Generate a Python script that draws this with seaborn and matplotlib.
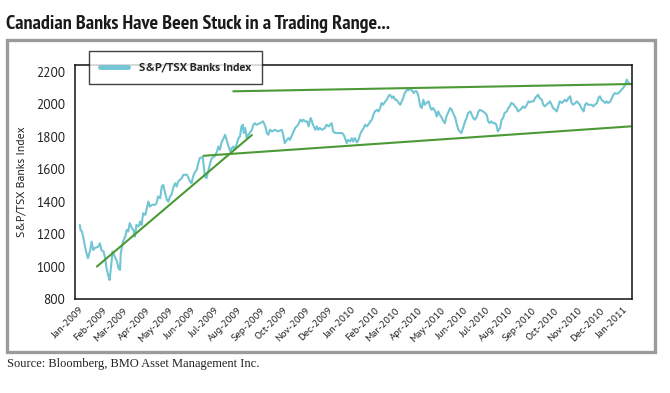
import pandas as pd
import seaborn as sns
import matplotlib.pyplot as plt
from matplotlib.patches import Rectangle

# day offsets from 1 Jan 2009 and S&P/TSX Banks Index level
days = [1, 2, 4, 6, 8, 10, 12, 15, 17, 19, 21, 26, 28, 30, 33, 35, 37, 39, 41, 43,
        45, 47, 51, 53, 55, 56, 59, 62, 64, 66, 68, 71, 73, 75, 77, 80, 82, 84, 86, 89,
        91, 93, 95, 98, 102, 104, 106, 109, 111, 113, 115, 118, 120, 122, 124, 127, 129, 131, 133, 138,
        140, 145, 149, 151, 153, 156, 158, 160, 162, 166, 169, 171, 176, 178, 182, 185, 187, 189, 191, 194,
        196, 198, 200, 203, 205, 207, 209, 212, 214, 216, 218, 220, 221, 223, 225, 227, 229, 232, 234, 236,
        238, 243, 247, 250, 252, 254, 256, 259, 263, 267, 272, 274, 276, 279, 281, 283, 285, 288, 290, 292,
        294, 297, 299, 301, 303, 306, 308, 310, 311, 314, 317, 319, 321, 323, 326, 330, 332, 335, 337, 339,
        341, 344, 348, 353, 355, 357, 359, 361, 364, 366, 368, 370, 373, 375, 377, 379, 382, 384, 386, 388,
        391, 393, 395, 397, 400, 402, 404, 406, 408, 411, 413, 415, 417, 420, 422, 424, 426, 429, 431, 433,
        435, 437, 440, 442, 444, 446, 449, 451, 453, 455, 458, 460, 462, 464, 466, 469, 471, 473, 475, 478,
        480, 482, 484, 487, 489, 491, 493, 496, 498, 500, 502, 505, 507, 509, 511, 513, 516, 518, 520, 522,
        525, 527, 529, 531, 534, 536, 538, 542, 545, 547, 549, 551, 553, 556, 558, 560, 562, 565, 567, 569,
        571, 574, 576, 578, 580, 583, 585, 587, 589, 592, 594, 596, 598, 601, 603, 605, 607, 610, 612, 614,
        616, 618, 621, 623, 625, 627, 630, 632, 634, 636, 639, 641, 643, 645, 648, 650, 652, 654, 657, 659,
        661, 663, 666, 668, 670, 672, 674, 677, 679, 681, 683, 686, 688, 690, 692, 695, 697, 699, 701, 704,
        706, 708, 710, 713, 715, 717, 719, 722, 724, 726, 728, 730, 733, 735, 736, 738]
index_vals = [1256, 1225, 1215, 1174, 1123, 1082, 1051, 1102, 1153, 1102, 1113, 1123, 1143, 1102, 1092, 1051, 989, 948, 917, 999,
              1092, 1071, 1030, 989, 979, 1082, 1153, 1184, 1225, 1215, 1267, 1236, 1225, 1184, 1256, 1246, 1277, 1256, 1328, 1318,
              1359, 1400, 1369, 1380, 1380, 1390, 1431, 1421, 1493, 1503, 1462, 1410, 1400, 1431, 1441, 1493, 1513, 1493, 1523, 1545,
              1565, 1565, 1523, 1513, 1554, 1585, 1595, 1637, 1668, 1675, 1554, 1544, 1637, 1667, 1678, 1708, 1739, 1719, 1760, 1791,
              1811, 1780, 1750, 1708, 1729, 1739, 1719, 1760, 1791, 1801, 1863, 1873, 1822, 1853, 1791, 1811, 1822, 1842, 1873, 1883,
              1873, 1883, 1894, 1863, 1822, 1811, 1842, 1832, 1842, 1832, 1842, 1811, 1760, 1780, 1791, 1780, 1801, 1832, 1853, 1863,
              1873, 1904, 1894, 1904, 1894, 1894, 1863, 1904, 1914, 1873, 1842, 1863, 1842, 1853, 1842, 1853, 1873, 1863, 1873, 1883,
              1832, 1822, 1822, 1822, 1811, 1791, 1760, 1780, 1770, 1791, 1770, 1791, 1764, 1780, 1811, 1832, 1853, 1873, 1863, 1873,
              1894, 1904, 1935, 1955, 1965, 1955, 1976, 2007, 1996, 2017, 2027, 2048, 2058, 2038, 2048, 2027, 2027, 2007, 1996, 2017,
              2038, 2068, 2089, 2085, 2093, 2089, 2068, 2079, 2079, 2058, 1986, 1976, 2027, 1996, 2007, 2017, 1986, 1965, 1976, 1955,
              1924, 1955, 1935, 1914, 1894, 1883, 1924, 1955, 1976, 1965, 1945, 1914, 1873, 1842, 1832, 1822, 1863, 1894, 1914, 1945,
              1955, 1935, 1914, 1904, 1924, 1955, 1965, 1955, 1945, 1935, 1894, 1883, 1894, 1883, 1883, 1873, 1832, 1853, 1904, 1914,
              1945, 1955, 1976, 1986, 2007, 2000, 1986, 1976, 1955, 1965, 1976, 1986, 1976, 1996, 2017, 2012, 2017, 2017, 2038, 2048,
              2058, 2038, 2027, 1996, 1986, 1996, 2007, 2017, 1996, 1976, 1965, 1955, 1986, 2017, 2007, 2017, 2027, 2017, 2038, 2048,
              2007, 1996, 2007, 2017, 2007, 1996, 1976, 1955, 1996, 2007, 1996, 1996, 1996, 1986, 1996, 2007, 2038, 2048, 2027, 2017,
              2007, 2017, 2007, 2017, 2038, 2058, 2068, 2064, 2068, 2079, 2089, 2099, 2120, 2151, 2140, 2130]

# trading range lines (start day, start level, end day, end level)
trend_start_days = [24, 167, 207]
trend_start_vals = [1000, 1682, 2079]
trend_end_days = [232, 740, 742]
trend_end_vals = [1810, 1863, 2124]

title = "Canadian Banks Have Been Stuck in a Trading Range..."
source = "Source: Bloomberg, BMO Asset Management Inc."
series_name = "S&P/TSX Banks Index"
y_ticks = [800, 1000, 1200, 1400, 1600, 1800, 2000, 2200]

start = pd.Timestamp("2009-01-01")
df = pd.DataFrame({"date": start + pd.to_timedelta(days, unit="D"), "value": index_vals})

sns.set_style("white")
plt.rcParams["font.family"] = ["PT Sans", "DejaVu Sans"]

fig = plt.figure(figsize=(6.7, 3.93), dpi=100)
ax = fig.add_axes([75 / 670, 1 - 299 / 393, 557 / 670, 234 / 393])

sns.lineplot(data=df, x="date", y="value", ax=ax, color="#72c5d3", linewidth=1.5, label=series_name)

for i in range(len(trend_start_days)):
    seg = pd.DataFrame({
        "date": start + pd.to_timedelta([trend_start_days[i], trend_end_days[i]], unit="D"),
        "value": [trend_start_vals[i], trend_end_vals[i]],
    })
    sns.lineplot(data=seg, x="date", y="value", ax=ax, color="#4b9a35", linewidth=1.5)

ax.set_xlim(start - pd.Timedelta(days=5.4), start + pd.Timedelta(days=742))
ax.set_ylim(800, 2241)
ax.set_yticks(y_ticks)
ax.set_yticklabels([str(v) for v in y_ticks], fontsize=9.5, color="#222222")

months = pd.date_range("2009-01-01", "2011-01-01", freq="MS")
ax.set_xticks(months)
ax.set_xticklabels([m.strftime("%b-%Y") for m in months], rotation=45, ha="right",
                   rotation_mode="anchor", fontsize=7.5, color="#222222")
ax.tick_params(axis="x", length=0, pad=5)
ax.tick_params(axis="y", direction="inout", length=8, width=1, pad=3)

ax.set_xlabel("")
ax.set_ylabel(series_name, fontsize=8.5, color="#222222")
ax.yaxis.set_label_coords(-0.087, 0.5)

for sp in ax.spines.values():
    sp.set_color("#111111")
    sp.set_linewidth(1.1)

leg = ax.legend(loc="upper left", bbox_to_anchor=(89 / 670, 1 - 51 / 393), bbox_transform=fig.transFigure,
                frameon=True, fancybox=False, handlelength=2.3, borderpad=0.95,
                handletextpad=0.9, borderaxespad=0, prop={"size": 8.6, "weight": "bold"})
leg.get_frame().set_edgecolor("#111111")
leg.get_frame().set_linewidth(1.0)
leg.get_lines()[0].set_linewidth(3.5)
leg.set_zorder(5)

# grey frame around the chart
fig.patches.append(Rectangle((7 / 670, 1 - 352 / 393), 648 / 670, 312 / 393, transform=fig.transFigure,
                             fill=False, edgecolor="#9b9b9b", linewidth=2.4))

fig.text(6 / 670, 1 - 29 / 393, title, fontsize=14.5, fontweight="bold", color="#1a1a1a", va="baseline",
         family=["PT Sans Narrow", "DejaVu Sans"])
fig.text(7 / 670, 1 - 367 / 393, source, fontsize=9, color="#222222", va="baseline",
         family=["Liberation Serif", "DejaVu Serif"])

fig.savefig("out.png", dpi=100)
